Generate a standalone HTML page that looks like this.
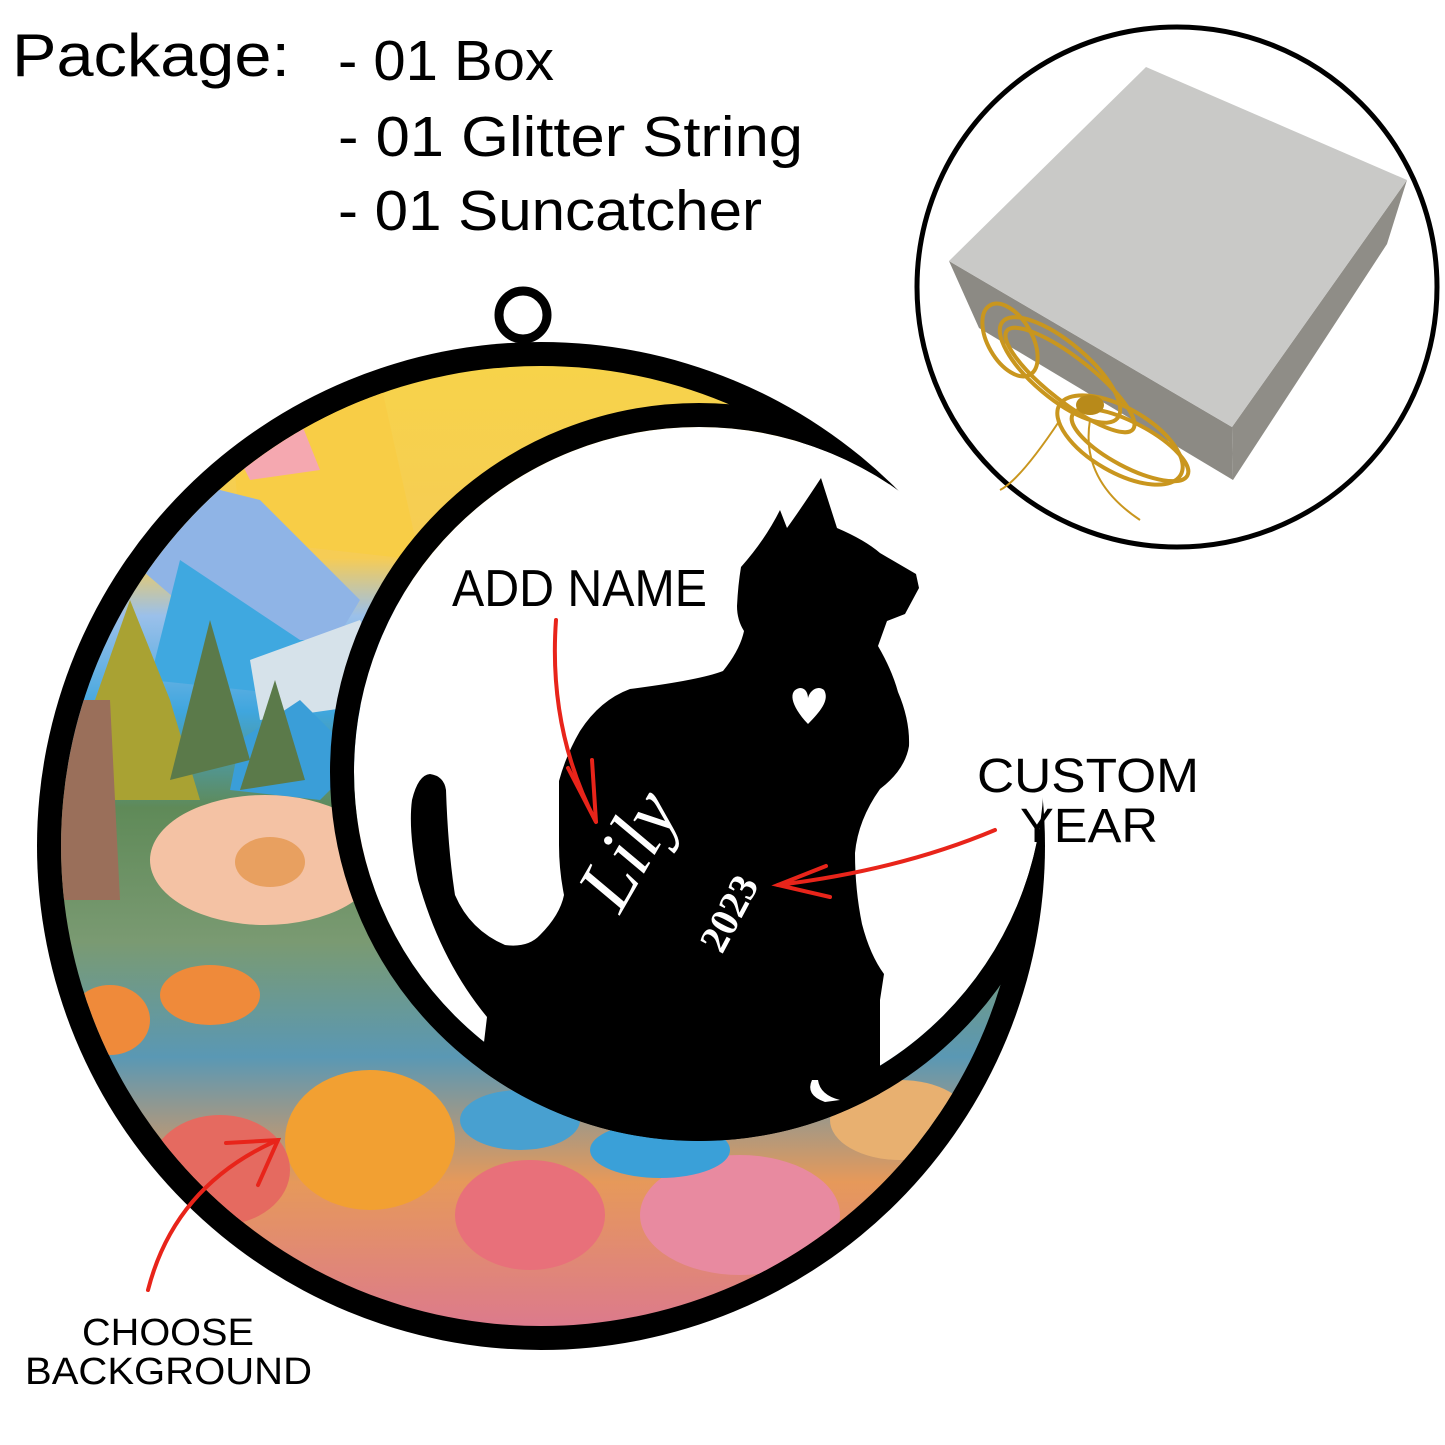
<!DOCTYPE html>
<html><head><meta charset="utf-8"><style>
html,body{margin:0;padding:0;background:#fff;}
body{width:1445px;height:1445px;overflow:hidden;position:relative;}
svg{position:absolute;left:0;top:0;}
</style></head><body>
<svg width="1445" height="1445" viewBox="0 0 1445 1445" xmlns="http://www.w3.org/2000/svg">
<defs>
<linearGradient id="sky" x1="0" y1="0" x2="0" y2="1">
<stop offset="0" stop-color="#f7d34a"/>
<stop offset="0.2" stop-color="#f6cc55"/>
<stop offset="0.26" stop-color="#9bc0ea"/>
<stop offset="0.36" stop-color="#3fa6de"/>
<stop offset="0.46" stop-color="#5f8a58"/>
<stop offset="0.6" stop-color="#7a9a72"/>
<stop offset="0.72" stop-color="#5a98b4"/>
<stop offset="0.85" stop-color="#e6995a"/>
<stop offset="1" stop-color="#dc7a8c"/>
</linearGradient>
<clipPath id="outer"><circle cx="541" cy="846" r="480"/></clipPath>
<clipPath id="outer2"><circle cx="541" cy="846" r="498"/></clipPath>
<clipPath id="inner"><circle cx="699" cy="772" r="369"/></clipPath>
</defs>

<text x="12" y="76" font-family="Liberation Sans, sans-serif" font-size="60" fill="#000" textLength="278" lengthAdjust="spacingAndGlyphs">Package:</text>
<g font-family="Liberation Sans, sans-serif" font-size="57" fill="#000">
<text x="338" y="80" textLength="216" lengthAdjust="spacingAndGlyphs">- 01 Box</text>
<text x="338" y="156" textLength="465" lengthAdjust="spacingAndGlyphs">- 01 Glitter String</text>
<text x="338" y="230" textLength="424" lengthAdjust="spacingAndGlyphs">- 01 Suncatcher</text>
</g>

<circle cx="1177" cy="287" r="260" fill="#fff" stroke="#000" stroke-width="5"/>
<polygon points="949,261 1232,427 1233,480 979,328" fill="#8c8a84"/>
<polygon points="1232,427 1407,180 1387,244 1233,480" fill="#8f8d87"/>
<polygon points="949,261 1146,67 1407,180 1232,427" fill="#c9c9c7"/>
<g fill="none" stroke="#c9961e" stroke-width="4">
<ellipse cx="1060" cy="370" rx="75" ry="28" transform="rotate(40 1060 370)"/>
<ellipse cx="1070" cy="380" rx="80" ry="22" transform="rotate(38 1070 380)"/>
<ellipse cx="1120" cy="440" rx="70" ry="32" transform="rotate(30 1120 440)"/>
<ellipse cx="1130" cy="445" rx="65" ry="22" transform="rotate(28 1130 445)"/>
<ellipse cx="1010" cy="340" rx="40" ry="22" transform="rotate(60 1010 340)"/>
<path d="M1090 420 Q1080 480 1140 520" stroke-width="2"/>
<path d="M1060 420 Q1020 480 1000 490" stroke-width="2"/>
</g>
<ellipse cx="1090" cy="405" rx="14" ry="10" fill="#b88a1a"/>

<circle cx="523" cy="315" r="24" fill="none" stroke="#000" stroke-width="9"/>
<circle cx="541" cy="846" r="504" fill="#000"/>
<circle cx="541" cy="846" r="480" fill="url(#sky)"/>
<g clip-path="url(#outer)">
<polygon points="230,400 380,380 420,560 240,540" fill="#f8cd46"/>
<polygon points="230,440 300,420 320,470 250,480" fill="#f5a8b0"/>
<polygon points="180,480 260,500 360,600 330,650 200,620 130,560" fill="#8fb4e6"/>
<polygon points="180,560 300,640 380,640 340,700 150,680" fill="#3fa8e0"/>
<polygon points="250,660 360,620 400,700 260,720" fill="#d6e2ea"/>
<polygon points="240,740 300,700 360,760 320,800 230,790" fill="#3a9ed8"/>
<polygon points="130,600 170,700 200,800 90,800 95,700" fill="#a9a233"/>
<polygon points="210,620 250,760 170,780" fill="#5b7a4a"/>
<polygon points="275,680 305,780 240,790" fill="#5b7a4a"/>
<polygon points="60,700 110,700 120,900 60,900" fill="#9a6f5a"/>
<ellipse cx="265" cy="860" rx="115" ry="65" fill="#f4c2a4"/>
<ellipse cx="270" cy="862" rx="35" ry="25" fill="#e8a060"/>
<ellipse cx="210" cy="995" rx="50" ry="30" fill="#ef8a3a"/>
<ellipse cx="110" cy="1020" rx="40" ry="35" fill="#ef8a3a"/>
<ellipse cx="370" cy="1140" rx="85" ry="70" fill="#f2a032"/>
<ellipse cx="220" cy="1170" rx="70" ry="55" fill="#e56a60"/>
<ellipse cx="530" cy="1215" rx="75" ry="55" fill="#e8707a"/>
<ellipse cx="740" cy="1215" rx="100" ry="60" fill="#e88aa0"/>
<ellipse cx="520" cy="1120" rx="60" ry="30" fill="#48a0d0"/>
<ellipse cx="660" cy="1150" rx="70" ry="28" fill="#3aa0d8"/>
<ellipse cx="900" cy="1120" rx="70" ry="40" fill="#e8b070"/>
</g>
<circle cx="699" cy="772" r="345" fill="#fff"/>
<g clip-path="url(#outer2)"><circle cx="699" cy="772" r="357" fill="none" stroke="#000" stroke-width="24"/></g>

<g clip-path="url(#inner)">
<path d="M821,478 L837,528 Q865,540 880,553 L916,574 L919,588 L905,614 L887,621 L878,646 Q892,670 898,692 Q910,720 909,746 Q905,770 880,789 Q858,820 855,853 Q855,890 862,924 Q870,955 884,974 L880,1000 L880,1160 L470,1160 L487,1017 Q440,960 418,880 Q408,830 412,800 Q418,775 430,774 Q444,776 446,790 Q448,850 455,895 Q470,930 505,945 Q528,948 540,935 Q560,915 564,895 Q559,870 559,845 L559,781 Q566,755 580,731 Q600,700 630,689 Q700,680 723,671 Q740,650 744,631 Q737,620 737,606 Q738,585 741,567 Q765,540 780,510 L787,528 Q800,510 821,478Z" fill="#000"/>
</g>
<path d="M808,724 C790,705 788,690 800,688 C806,688 808,694 808,698 C810,690 818,685 824,690 C830,700 820,712 808,724Z" fill="#fff"/>
<path d="M812,1080 Q805,1095 825,1102 L840,1100 Q820,1095 818,1080Z" fill="#fff"/>
<text x="0" y="0" transform="translate(620,915) rotate(-60)" font-family="Liberation Serif, serif" font-style="italic" font-size="78" fill="#fff">Lily</text>
<text x="0" y="0" transform="translate(722,955) rotate(-62)" font-family="Liberation Serif, serif" font-weight="bold" font-size="40" fill="#fff">2023</text>

<text x="452" y="606" font-family="Liberation Sans, sans-serif" font-size="52" fill="#000" textLength="255" lengthAdjust="spacingAndGlyphs">ADD NAME</text>
<text x="977" y="792" font-family="Liberation Sans, sans-serif" font-size="48" fill="#000" textLength="222" lengthAdjust="spacingAndGlyphs">CUSTOM</text>
<text x="1020" y="842" font-family="Liberation Sans, sans-serif" font-size="48" fill="#000" textLength="138" lengthAdjust="spacingAndGlyphs">YEAR</text>
<text x="82" y="1345" font-family="Liberation Sans, sans-serif" font-size="38" fill="#000" textLength="172" lengthAdjust="spacingAndGlyphs">CHOOSE</text>
<text x="25" y="1384" font-family="Liberation Sans, sans-serif" font-size="38" fill="#000" textLength="287" lengthAdjust="spacingAndGlyphs">BACKGROUND</text>

<g fill="none" stroke="#e8241a" stroke-width="4" stroke-linecap="round">
<path d="M556,620 Q548,730 596,822"/>
<path d="M568,768 L596,822 L592,760"/>
<path d="M995,830 Q900,870 778,885"/>
<path d="M826,866 L778,885 L830,897"/>
<path d="M148,1290 Q175,1185 278,1140"/>
<path d="M226,1143 L278,1140 L258,1185"/>
</g>
</svg>
</body></html>
